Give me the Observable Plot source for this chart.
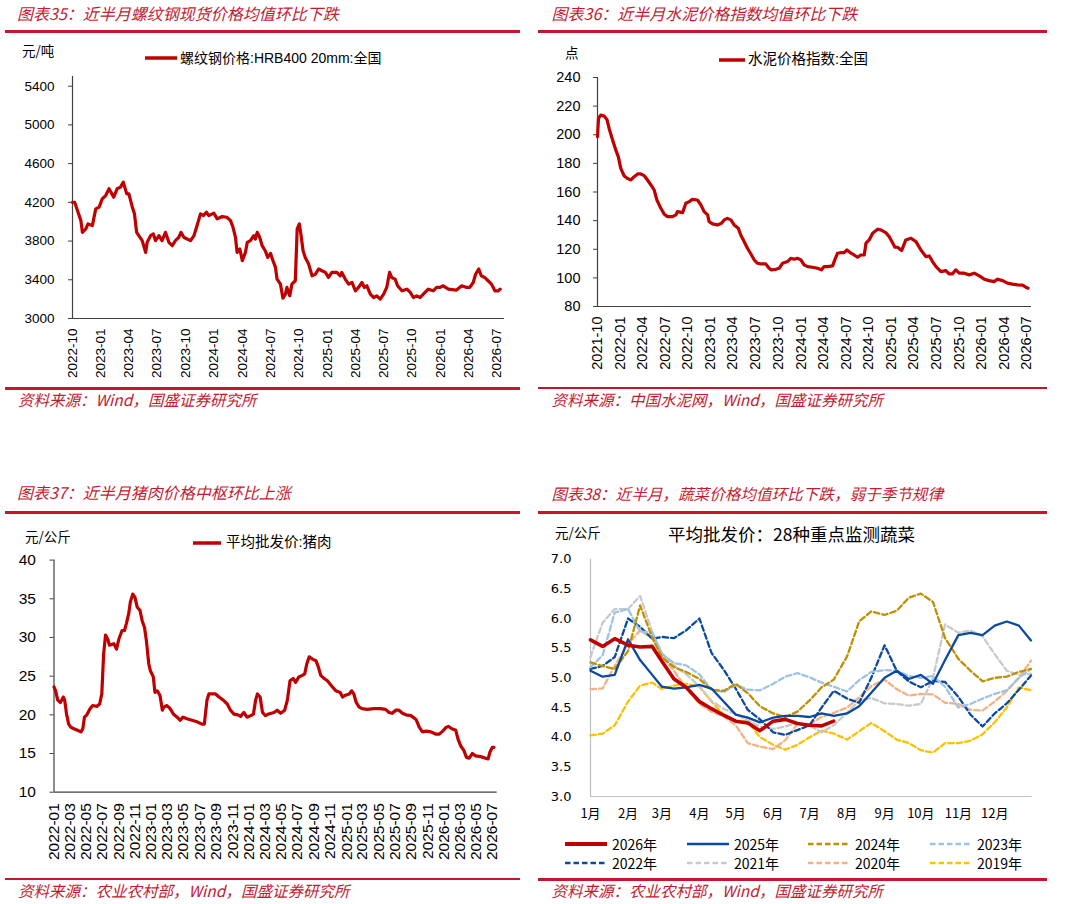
<!DOCTYPE html>
<html><head><meta charset="utf-8">
<script src="https://cdn.jsdelivr.net/npm/d3@7"></script>
<script src="https://cdn.jsdelivr.net/npm/@observablehq/plot@0.6"></script>
<style>
html,body{margin:0;padding:0;background:#fff;}
#root{position:relative;width:1065px;height:904px;overflow:hidden;font-family:"Noto Sans CJK SC",sans-serif;background:#fff;}
.t{position:absolute;white-space:nowrap;transform:translateY(-50%);line-height:1.2;z-index:2;}
.title{color:#c41a30;font-style:italic;font-size:16px;}
.src{color:#c41a30;font-style:italic;font-size:15.5px;}
.unit{font-size:13.5px;color:#000;}
.leg{font-size:14px;color:#000;font-family:"Liberation Sans","Noto Sans CJK SC",sans-serif;}
.rule{position:absolute;height:2.5px;background:#c8142c;z-index:2;}
.plot{position:absolute;z-index:1;}
.sw{position:absolute;z-index:2;}
</style></head>
<body><div id="root"></div>
<script>
// ---------------- DATA ----------------
// Chart 35: rebar spot price (元/吨)
const steelDates = ["2022-10-01","2022-10-08","2022-10-17","2022-10-28","2022-11-02","2022-11-13","2022-11-20","2022-12-04","2022-12-15","2022-12-26",
"2023-01-05","2023-01-16","2023-01-27","2023-02-11","2023-02-22","2023-03-05","2023-03-14","2023-03-25","2023-04-01","2023-04-12","2023-04-19","2023-04-26","2023-05-03","2023-05-14","2023-05-25","2023-05-30","2023-06-10","2023-06-19","2023-06-26","2023-07-07","2023-07-17","2023-07-28","2023-08-08","2023-08-19","2023-08-29","2023-09-09","2023-09-16","2023-09-25","2023-10-06","2023-10-17","2023-10-28","2023-11-07","2023-11-18","2023-11-28","2023-12-07","2023-12-15","2023-12-31",
"2024-01-11","2024-01-27","2024-02-11","2024-02-23","2024-03-02","2024-03-10","2024-03-15","2024-03-24","2024-04-01","2024-04-11","2024-04-17","2024-04-27","2024-05-08","2024-05-13","2024-05-19","2024-05-27","2024-06-04","2024-06-14","2024-06-22","2024-07-01","2024-07-09","2024-07-17","2024-07-22","2024-08-02","2024-08-10","2024-08-18","2024-08-23","2024-09-01","2024-09-08","2024-09-19","2024-09-25","2024-10-02","2024-10-07","2024-10-14","2024-10-21","2024-11-01","2024-11-12","2024-11-23","2024-12-03","2024-12-14","2024-12-25",
"2025-01-04","2025-01-15","2025-01-31","2025-02-11","2025-02-16","2025-02-27","2025-03-10","2025-03-21","2025-04-01","2025-04-11","2025-04-22","2025-04-30","2025-05-08","2025-05-19","2025-05-30","2025-06-09","2025-06-20","2025-07-01","2025-07-11","2025-07-20","2025-07-27","2025-08-07","2025-08-15","2025-08-29","2025-09-14","2025-09-25","2025-10-05","2025-10-16","2025-10-27","2025-11-06","2025-11-22","2025-12-08","2025-12-19","2025-12-30",
"2026-01-09","2026-01-26","2026-02-20","2026-03-10","2026-03-26","2026-04-05","2026-04-16","2026-04-24","2026-05-04","2026-05-12","2026-05-23","2026-06-03","2026-06-14","2026-06-25","2026-07-06","2026-07-12"];
const steelValues = [4200,4200,4115,4011,3890,3925,3977,3960,4132,4150,
4236,4270,4340,4253,4340,4357,4409,4288,4288,4150,4081,3890,3856,3804,3683,3787,3856,3873,3804,3856,3804,3890,3787,3752,3804,3839,3890,3839,3821,3804,3856,3960,4081,4063,4098,4063,4088,
4029,4053,4046,4011,3942,3839,3683,3718,3597,3683,3787,3804,3856,3821,3890,3839,3752,3700,3631,3673,3597,3528,3407,3355,3210,3252,3321,3234,3355,3390,3925,3977,3873,3700,3631,3562,3441,3459,3511,3493,3476,
3424,3476,3476,3441,3476,3407,3355,3372,3286,3321,3372,3321,3338,3252,3217,3234,3200,3252,3321,3476,3424,3407,3338,3286,3303,3269,3217,3234,3217,3252,3303,3286,3321,3321,
3338,3303,3293,3338,3321,3321,3372,3459,3511,3441,3424,3390,3355,3286,3286,3303];
const steelYTicks = [3000,3400,3800,4200,4600,5000,5400];
const steelXTicks = ["2022-10","2023-01","2023-04","2023-07","2023-10","2024-01","2024-04","2024-07","2024-10","2025-01","2025-04","2025-07","2025-10","2026-01","2026-04","2026-07"];

// Chart 36: cement price index (点)
const cementDates = ["2021-10-01","2021-10-05","2021-10-14","2021-10-28","2021-11-08","2021-11-17","2021-12-01","2021-12-14","2021-12-24",
"2022-01-03","2022-01-17","2022-01-30","2022-02-13","2022-02-26","2022-03-12","2022-03-25","2022-04-08","2022-04-21","2022-05-05","2022-05-18","2022-05-29","2022-06-14","2022-06-27","2022-07-11","2022-07-31","2022-08-14","2022-08-20","2022-09-10","2022-09-23","2022-10-07","2022-10-20","2022-11-09","2022-11-23","2022-12-06","2022-12-20","2022-12-26",
"2023-01-09","2023-01-29","2023-02-14","2023-02-25","2023-03-10","2023-03-24","2023-04-06","2023-04-23","2023-05-03","2023-05-17","2023-05-30","2023-06-13","2023-06-26","2023-07-10","2023-07-23","2023-08-12","2023-08-22","2023-09-02","2023-09-22","2023-10-05","2023-10-19","2023-11-08","2023-11-21","2023-12-05","2023-12-18",
"2024-01-01","2024-01-14","2024-01-28","2024-02-17","2024-03-08","2024-03-24","2024-04-04","2024-04-18","2024-05-08","2024-05-17","2024-05-28","2024-06-13","2024-06-24","2024-07-05","2024-07-18","2024-08-03","2024-08-17","2024-08-30","2024-09-13","2024-09-20","2024-10-03","2024-10-17","2024-11-06","2024-11-19","2024-12-09","2024-12-23",
"2025-01-05","2025-01-15","2025-01-26","2025-02-11","2025-02-28","2025-03-21","2025-04-10","2025-04-30","2025-05-20","2025-06-03","2025-06-16","2025-06-30","2025-07-20","2025-08-09","2025-08-22","2025-09-05","2025-09-18","2025-10-02","2025-10-22","2025-11-11","2025-12-02","2025-12-22",
"2026-01-11","2026-01-31","2026-02-20","2026-03-06","2026-03-26","2026-04-15","2026-05-05","2026-05-26","2026-06-15","2026-06-28","2026-07-07"];
const cementValues = [198.6,211.4,213.7,213,210.7,204.4,196.3,189.3,184.7,
176.5,171.2,169.5,168.4,170.7,172.6,172.6,171.4,168.4,164.9,161.4,154.4,148.6,144.7,142.8,142.8,144,146.3,145.6,152.1,153.3,154.9,154.4,150.9,146.3,144,139.3,
137.7,137,138.1,140.5,141.6,140.5,137,134.7,130,125.3,120.7,116.7,112.6,110.2,109.8,109.8,107.4,105.6,106,106.7,110.2,111.4,113.7,113,113.7,
112.6,109.1,107.9,107.4,106.7,105.6,107.9,107.9,108.4,112.6,117.2,117.7,117.7,119.5,117.7,116,114.4,116,116,124.2,126.5,131.2,134,133.5,131.6,128.8,
124.7,121.4,121.4,119.1,126.5,127.7,125.3,119.5,114.9,115.3,111.4,107.9,104.4,105.1,102.8,102.8,105.6,103.3,103.3,102.1,103.3,101.4,
99.1,98.1,97.4,99.1,98.1,96.3,95.6,95.1,94.9,93.5,92.8];
const cementYTicks = [80,100,120,140,160,180,200,220,240];
const cementXTicks = ["2021-10","2022-01","2022-04","2022-07","2022-10","2023-01","2023-04","2023-07","2023-10","2024-01","2024-04","2024-07","2024-10","2025-01","2025-04","2025-07","2025-10","2026-01","2026-04","2026-07"];

// Chart 37: pork average wholesale price (元/公斤)
const porkDates = ["2022-01-01","2022-01-07","2022-01-15","2022-01-25","2022-02-05","2022-02-10","2022-02-17","2022-02-25","2022-03-05","2022-03-17","2022-03-30","2022-04-12","2022-04-19","2022-04-25","2022-05-04","2022-05-16","2022-05-26","2022-06-11","2022-06-21","2022-06-29","2022-07-06","2022-07-13","2022-07-21","2022-07-28","2022-08-13","2022-08-23","2022-09-01","2022-09-13","2022-09-22","2022-09-29","2022-10-08","2022-10-14","2022-10-23","2022-10-31","2022-11-09","2022-11-19","2022-11-27","2022-12-06","2022-12-13","2022-12-22","2022-12-28",
"2023-01-08","2023-01-14","2023-01-23","2023-02-02","2023-02-11","2023-02-16","2023-02-28","2023-03-12","2023-03-24","2023-04-07","2023-04-19","2023-04-29","2023-05-14","2023-06-02","2023-06-20","2023-07-09","2023-07-18","2023-07-28","2023-08-04","2023-08-16","2023-08-29","2023-09-11","2023-09-27","2023-10-12","2023-10-24","2023-11-06","2023-11-21","2023-12-01","2023-12-13","2023-12-25",
"2024-01-08","2024-01-18","2024-01-26","2024-02-02","2024-02-12","2024-02-21","2024-03-03","2024-03-15","2024-04-04","2024-04-16","2024-04-29","2024-05-14","2024-05-24","2024-06-03","2024-06-15","2024-06-24","2024-07-06","2024-07-19","2024-07-28","2024-08-05","2024-08-14","2024-08-26","2024-09-08","2024-09-17","2024-09-26","2024-10-09","2024-10-21","2024-11-09","2024-11-22","2024-12-08","2024-12-17","2024-12-25",
"2025-01-11","2025-01-20","2025-01-28","2025-02-06","2025-02-17","2025-02-28","2025-03-19","2025-04-14","2025-05-08","2025-05-27","2025-06-09","2025-06-21","2025-07-04","2025-07-16","2025-07-29","2025-08-11","2025-08-30","2025-09-18","2025-09-30","2025-10-12","2025-10-25","2025-11-13","2025-12-02","2025-12-14","2025-12-27",
"2026-01-09","2026-01-18","2026-01-30","2026-02-14","2026-02-22","2026-03-04","2026-03-16","2026-03-26","2026-04-05","2026-04-17","2026-04-29","2026-05-18","2026-06-06","2026-06-15","2026-06-22","2026-07-01","2026-07-07"];
const porkValues = [23.6,23.1,21.9,21.6,22.3,21.9,20.1,18.8,18.4,18.2,18.0,17.8,18.2,19.7,20.0,20.8,21.2,21.1,21.4,22.7,27.9,30.3,29.8,29.0,29.2,28.5,29.8,30.9,30.9,31.8,33.1,34.6,35.6,35.2,33.9,33.5,32.2,31.3,29.6,26.6,25.7,
24.9,22.9,23.1,22.5,20.6,21.0,21.2,20.8,20.1,19.7,19.3,19.7,19.5,19.3,19.1,18.8,18.8,21.9,22.7,22.7,22.7,22.3,21.9,21.4,20.6,20.1,20.0,19.8,20.3,19.7,
19.9,20.1,21.9,22.7,22.3,20.3,19.9,20.1,20.3,20.6,20.2,20.6,21.9,24.4,24.7,24.2,24.9,25.1,25.3,26.6,27.5,27.2,27.0,26.2,25.1,24.7,24.4,23.6,23.1,22.9,22.3,22.5,
22.7,23.1,22.7,21.6,21.0,20.8,20.7,20.8,20.8,20.7,20.3,20.2,20.6,20.6,20.2,20.0,19.9,19.4,18.4,17.8,17.9,17.8,17.5,17.5,17.9,
18.4,18.5,18.2,18.0,16.9,16.0,15.4,14.5,14.4,15.0,14.7,14.6,14.4,14.3,15.2,15.8,15.8];
const porkYTicks = [10,15,20,25,30,35,40];
const porkXTicks = ["2022-01","2022-03","2022-05","2022-07","2022-09","2022-11","2023-01","2023-03","2023-05","2023-07","2023-09","2023-11","2024-01","2024-03","2024-05","2024-07","2024-09","2024-11","2025-01","2025-03","2025-05","2025-07","2025-09","2025-11","2026-01","2026-03","2026-05","2026-07"];

// Chart 38: 28 key vegetables average wholesale price, seasonal (元/公斤)
const vegDays = ["01-01","01-11","01-21","02-01","02-11","02-21","03-01","03-11","03-21","04-01","04-11","04-21","05-01","05-11","05-21","06-01","06-11","06-21","07-01","07-11","07-21","08-01","08-11","08-21","09-01","09-11","09-21","10-01","10-11","10-21","11-01","11-11","11-21","12-01","12-11","12-21","12-31"];
const veg2026 = [5.64,5.53,5.66,5.55,5.52,5.53,5.28,4.98,4.84,4.6,4.48,4.37,4.27,4.24,4.11,4.27,4.3,4.23,4.2,4.19,4.27];
const veg2025 = [5.12,5.02,5.05,5.65,5.3,5.05,4.85,4.82,4.84,4.88,4.82,4.6,4.38,4.33,4.25,4.33,4.36,4.36,4.34,4.4,4.36,4.4,4.52,4.75,5.0,5.12,4.98,5.05,4.9,5.3,5.72,5.76,5.72,5.88,5.95,5.88,5.63];
const veg2024 = [5.26,5.2,5.15,5.45,6.22,5.68,5.35,5.18,5.1,4.98,4.8,4.78,4.9,4.74,4.52,4.4,4.34,4.43,4.62,4.84,4.97,5.36,5.95,6.12,6.06,6.13,6.35,6.42,6.28,5.67,5.32,5.12,4.94,5.0,5.02,5.1,5.15];
const veg2023 = [5.18,5.38,6.1,6.16,5.78,5.76,5.4,5.25,5.21,5.06,4.8,4.76,4.88,4.8,4.79,4.9,5.02,5.08,5.01,4.92,4.85,4.77,4.96,5.1,5.13,5.12,5.03,5.0,5.03,4.85,4.5,4.56,4.65,4.73,4.79,5.0,5.15];
const veg2022 = [5.15,5.2,5.35,6.0,5.86,5.66,5.69,5.67,5.8,6.0,5.42,5.14,4.82,4.46,4.3,4.08,4.04,4.12,4.2,4.5,4.78,4.65,4.58,5.0,5.55,5.12,4.94,4.84,4.95,4.93,4.68,4.38,4.18,4.4,4.57,4.8,5.04];
const veg2021 = [5.35,5.93,6.16,6.16,6.38,5.78,5.42,5.21,5.06,4.86,4.61,4.48,4.39,4.28,4.18,4.14,4.18,4.24,4.2,4.08,4.2,4.41,4.62,4.66,4.57,4.56,4.53,4.56,5.0,5.9,5.76,5.8,5.7,5.4,5.12,5.05,5.07];
const veg2020 = [4.81,4.82,5.2,5.57,5.8,5.67,5.37,5.12,4.83,4.56,4.43,4.35,4.2,3.9,3.84,3.8,3.95,4.22,4.22,4.34,4.41,4.5,4.67,4.86,4.97,4.81,4.7,4.73,4.72,4.58,4.56,4.46,4.45,4.6,4.78,5.0,5.29];
const veg2019 = [4.03,4.06,4.2,4.6,4.87,4.92,4.81,4.87,4.9,4.85,4.6,4.38,4.27,4.27,4.0,3.87,3.79,3.87,4.0,4.11,4.06,3.96,4.1,4.24,4.1,3.96,3.9,3.78,3.74,3.9,3.9,3.94,4.05,4.25,4.5,4.84,4.79];
const vegYears = ["2026年","2025年","2024年","2023年","2022年","2021年","2020年","2019年"];
const vegYTicks = [3.0,3.5,4.0,4.5,5.0,5.5,6.0,6.5,7.0];
const monthLabels = ["1月","2月","3月","4月","5月","6月","7月","8月","9月","10月","11月","12月"];

// ---------------- HELPERS ----------------
const root = document.getElementById("root");
const parseDate = d3.utcParse("%Y-%m-%d");
function addText(str, x, cy, cls, style) {
  const el = document.createElement("div");
  el.className = "t " + cls;
  el.textContent = str;
  el.style.left = x + "px";
  el.style.top = cy + "px";
  if (style) Object.assign(el.style, style);
  root.appendChild(el);
  return el;
}
function addRule(x1, x2, y) {
  const el = document.createElement("div");
  el.className = "rule";
  el.style.left = x1 + "px";
  el.style.width = (x2 - x1) + "px";
  el.style.top = (y - 1.25) + "px";
  root.appendChild(el);
}
function addSwatch(x, y, len, color, width, dash) {
  const ns = "http://www.w3.org/2000/svg";
  const svg = document.createElementNS(ns, "svg");
  svg.setAttribute("class", "sw");
  svg.setAttribute("width", len);
  svg.setAttribute("height", 8);
  svg.style.left = x + "px";
  svg.style.top = (y - 4) + "px";
  const ln = document.createElementNS(ns, "line");
  ln.setAttribute("x1", 0); ln.setAttribute("x2", len);
  ln.setAttribute("y1", 4); ln.setAttribute("y2", 4);
  ln.setAttribute("stroke", color);
  ln.setAttribute("stroke-width", width);
  if (dash) ln.setAttribute("stroke-dasharray", dash);
  svg.appendChild(ln);
  root.appendChild(svg);
}
function placePlot(svg, left, top) {
  const wrap = document.createElement("div");
  wrap.className = "plot";
  wrap.style.left = left + "px";
  wrap.style.top = top + "px";
  wrap.appendChild(svg);
  root.appendChild(wrap);
}
const toSeries = (dates, values) => values.map((v, i) => ({date: parseDate(dates[i]), value: v}));
const monthTicks = arr => arr.map(s => parseDate(s + "-01"));
const axisColor = "#404040";
const RED = "#c00000";

function timePanel({data, xStart, xEnd, yDomain, yTicks, xTicks, width, height, margins, fontSize, xPad, yPad}) {
  return Plot.plot({
    width, height,
    marginLeft: margins[0], marginRight: margins[1], marginTop: margins[2], marginBottom: margins[3],
    style: {fontFamily: '"Liberation Sans", Arial, sans-serif', fontSize: fontSize + "px", color: "#000", background: "none", overflow: "visible"},
    x: {type: "utc", domain: [parseDate(xStart), parseDate(xEnd)]},
    y: {domain: yDomain},
    marks: [
      Plot.ruleY([yDomain[0]], {stroke: axisColor, strokeWidth: 1.2}),
      Plot.ruleX([parseDate(xStart)], {stroke: axisColor, strokeWidth: 1.2}),
      Plot.axisY({ticks: yTicks, tickFormat: d3.format("d"), tickSize: 4, tickPadding: yPad, stroke: axisColor, label: null}),
      Plot.axisX({ticks: monthTicks(xTicks), tickFormat: d3.utcFormat("%Y-%m"), tickRotate: -90, tickSize: 0, tickPadding: xPad, label: null}),
      Plot.line(data, {x: "date", y: "value", stroke: RED, strokeWidth: 3.2, strokeLinejoin: "round", strokeLinecap: "round"})
    ]
  });
}

// ---------------- PANEL 35 ----------------
addText("图表35：近半月螺纹钢现货价格均值环比下跌", 17, 13.5, "title");
addRule(5, 520, 31.7);
addText("元/吨", 22, 50, "unit");
addSwatch(145, 58.3, 32, RED, 3.5);
addText("螺纹钢价格:HRB400 20mm:全国", 180, 58.3, "leg");
placePlot(timePanel({
  data: toSeries(steelDates, steelValues), xStart: "2022-10-01", xEnd: "2026-07-26",
  yDomain: [3000, 5500], yTicks: steelYTicks, xTicks: steelXTicks,
  width: 520, height: 330, margins: [72, 16, 16, 72], fontSize: 13.5, xPad: 10, yPad: 14
}), 0, 60);
addRule(5, 520, 388.3);
addText("资料来源：Wind，国盛证券研究所", 18, 398.5, "src");

// ---------------- PANEL 36 ----------------
addText("图表36：近半月水泥价格指数均值环比下跌", 551.5, 13.5, "title");
addRule(538, 1047, 31.7);
addText("点", 565, 52, "unit");
addSwatch(719, 60, 26, RED, 3.5);
addText("水泥价格指数:全国", 748, 60, "leg", {fontSize: "14.5px"});
placePlot(timePanel({
  data: toSeries(cementDates, cementValues), xStart: "2021-10-01", xEnd: "2026-07-21",
  yDomain: [80, 240], yTicks: cementYTicks, xTicks: cementXTicks,
  width: 530, height: 330, margins: [67, 29, 17, 84], fontSize: 14.5, xPad: 10, yPad: 13
}), 530, 60);
addRule(538, 1047, 388);
addText("资料来源：中国水泥网，Wind，国盛证券研究所", 551.5, 398.5, "src");

// ---------------- PANEL 37 ----------------
addText("图表37：近半月猪肉价格中枢环比上涨", 17, 493.3, "title");
addRule(5, 520, 512.3);
addText("元/公斤", 25, 535.7, "unit");
addSwatch(193, 542.7, 28, RED, 3.5);
addText("平均批发价:猪肉", 226, 542.7, "leg", {fontSize: "14.5px"});
placePlot(timePanel({
  data: toSeries(porkDates, porkValues), xStart: "2022-01-01", xEnd: "2026-07-19",
  yDomain: [10, 40], yTicks: porkYTicks, xTicks: porkXTicks,
  width: 520, height: 330, margins: [53.5, 23.3, 14.6, 83.3], fontSize: 15.5, xPad: 11, yPad: 14
}), 0, 545);
addRule(5, 520, 879);
addText("资料来源：农业农村部，Wind，国盛证券研究所", 18, 890, "src");

// ---------------- PANEL 38 ----------------
addText("图表38：近半月，蔬菜价格均值环比下跌，弱于季节规律", 551.5, 493.3, "title", {fontSize: "15.6px"});
addRule(538, 1047, 512.3);
addText("元/公斤", 555, 531.7, "unit");
addText("平均批发价：28种重点监测蔬菜", 668, 533.3, "unit", {fontSize: "17.5px"});

const vegStyles = [
  {values: veg2026, color: "#c00000", width: 3.6, dash: null},
  {values: veg2025, color: "#0b4a9e", width: 2.3, dash: null},
  {values: veg2024, color: "#bf9000", width: 2.3, dash: "5.5,3"},
  {values: veg2023, color: "#9dc3e6", width: 2.3, dash: "5.5,3"},
  {values: veg2022, color: "#0b4a9e", width: 2.3, dash: "5.5,3"},
  {values: veg2021, color: "#c9c9c9", width: 2.3, dash: "5.5,3"},
  {values: veg2020, color: "#f4b183", width: 2.3, dash: "5.5,3"},
  {values: veg2019, color: "#ffc000", width: 2.3, dash: "5.5,3"}
];
const vegLines = vegStyles.slice().reverse().map(s => {
  const data = s.values.map((v, i) => ({date: parseDate("2001-" + vegDays[i]), value: v}));
  return Plot.line(data, {x: "date", y: "value", stroke: s.color, strokeWidth: s.width,
    strokeDasharray: s.dash || undefined, strokeLinejoin: "round"});
});
const vegStart = parseDate("2001-01-01");
const vegPlot = Plot.plot({
  width: 530, height: 280,
  marginLeft: 60, marginRight: 28.3, marginTop: 13.7, marginBottom: 29,
  style: {fontFamily: '"DejaVu Sans", Verdana, sans-serif', fontSize: "13px", color: "#000", background: "none", overflow: "visible"},
  x: {type: "utc", domain: [vegStart, parseDate("2002-01-01")]},
  y: {domain: [3, 7]},
  marks: [
    Plot.ruleY([3], {stroke: "#bfbfbf", strokeWidth: 1.2}),
    Plot.ruleX([vegStart], {stroke: "#bfbfbf", strokeWidth: 1.2}),
    Plot.axisY({ticks: vegYTicks, tickFormat: d3.format(".1f"), tickSize: 0, tickPadding: 19, label: null}),
    Plot.axisX({ticks: d3.range(12).map(m => new Date(Date.UTC(2001, m, 1))), tickFormat: d => monthLabels[d.getUTCMonth()],
      tickSize: 0, tickPadding: 12, label: null, fontFamily: '"Noto Sans CJK SC", sans-serif'}),
    ...vegLines
  ]
});
placePlot(vegPlot, 530, 545);

// legend for chart 38
const legX = [565, 687, 808, 930];
const legY = [844, 863];
vegStyles.forEach((s, i) => {
  const col = i % 4, row = Math.floor(i / 4);
  addSwatch(legX[col], legY[row], 42, s.color, i === 0 ? 4 : 2.6, s.dash ? "5.5,3" : null);
  addText(vegYears[i], legX[col] + 47, legY[row], "unit", {fontSize: "14px"});
});
addRule(538, 1047, 879.3);
addText("资料来源：农业农村部，Wind，国盛证券研究所", 551.5, 890, "src");
</script>
</body></html>
